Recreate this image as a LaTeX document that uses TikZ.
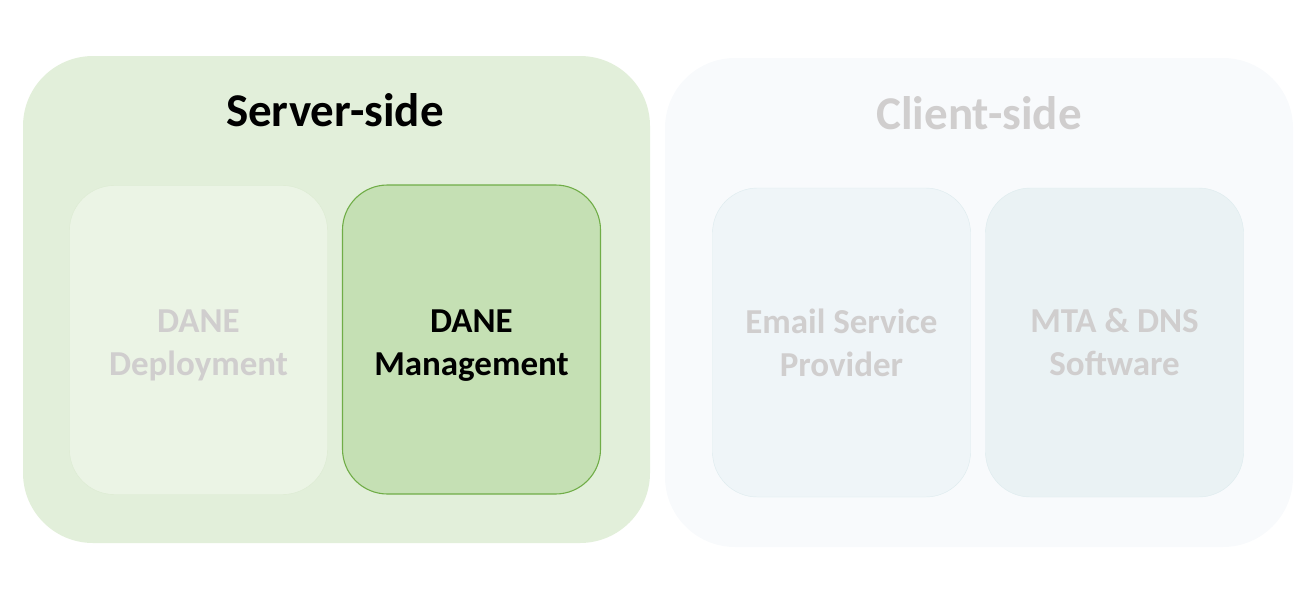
\documentclass[tikz,border=0pt]{standalone}
\usepackage{fontspec}
\setmainfont{Carlito}

\definecolor{serverbg}{HTML}{E2EFDA}
\definecolor{clientbg}{HTML}{F8FAFC}
\definecolor{fadegreen}{HTML}{EBF4E5}
\definecolor{fadeedge}{HTML}{DCEBD2}
\definecolor{mgmtfill}{HTML}{C5E0B4}
\definecolor{mgmtedge}{HTML}{70AD47}
\definecolor{emailfill}{HTML}{EFF5F8}
\definecolor{mtafill}{HTML}{EAF2F4}
\definecolor{blueedge}{HTML}{DDEBEE}
\definecolor{greytext}{HTML}{D0CECE}

% erste Zeile etwas tiefer setzen
\newcommand{\lift}{\rule{0pt}{34pt}}

\begin{document}
\begin{tikzpicture}[
    x=1pt, y=-1pt,
    side/.style={rounded corners=70pt, inner sep=0pt},
    part/.style={rounded corners=45pt, inner sep=0pt, minimum width=258pt, minimum height=309pt,
        align=center, font=\bfseries\fontsize{35}{43}\selectfont},
    title/.style={font=\bfseries\fontsize{47}{56}\selectfont},
    ]

    % --- Rahmen ---
    \useasboundingbox (0,0) rectangle (1308,589);

    % --- Server-side ---
    \node[side, fill=serverbg, minimum width=627pt, minimum height=487pt] (server) at (336.5,299.5) {};
    \node[title, text=black] (servertitle) at (335,110) {Server-side};
    \node[part, fill=fadegreen, draw=fadeedge, text=greytext] (deploy) at (198.5,340) {\lift DANE\\Deployment};
    \node[part, fill=mgmtfill, draw=mgmtedge, line width=1.1pt, text=black] (mgmt) at (471.5,339.5) {\lift DANE\\Management};

    % --- Client-side ---
    \node[side, fill=clientbg, minimum width=628pt, minimum height=489pt] (client) at (979,302.5) {};
    \node[title, text=greytext] (clienttitle) at (979,113) {Client-side};
    \node[part, fill=emailfill, draw=blueedge, text=greytext] (email) at (841.5,342.5) {Email Service\\Provider};
    \node[part, fill=mtafill, draw=blueedge, text=greytext] (mta) at (1114.5,342.5) {MTA \& DNS\\Software};

\end{tikzpicture}
\end{document}
